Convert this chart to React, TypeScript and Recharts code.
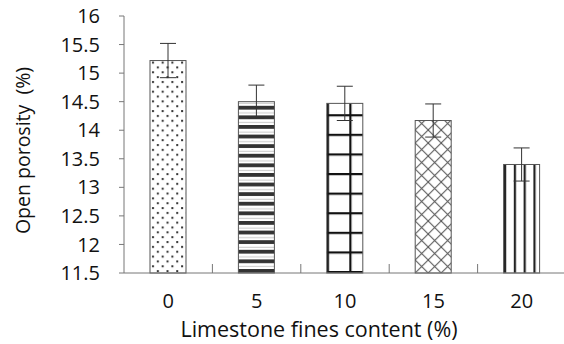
import React from "react";
import { BarChart, Bar, XAxis, YAxis, ErrorBar, Label } from "recharts";

const categories = ["0", "5", "10", "15", "20"];
const porosity = [15.22, 14.5, 14.47, 14.17, 13.4];
const errors = [0.3, 0.29, 0.3, 0.29, 0.29];
const yTicks = [11.5, 12, 12.5, 13, 13.5, 14, 14.5, 15, 15.5, 16];

const data = categories.map((c, i) => ({
  content: c,
  porosity: porosity[i],
  err: errors[i],
}));

const FONT = "'Open Sans', 'Noto Sans', sans-serif";
const X_TICK_SIZE = 8;
const X_TICK_MARGIN = 13;

// each bar gets its own hatch, anchored at the bar's left edge / bottom
const BarShape = (props: any) => {
  const { x, y, width, height, index } = props;
  const id = `hatch-${index}`;
  const bottom = y + height;
  let pattern: React.ReactNode = null;

  if (index === 0) {
    pattern = (
      <pattern id={id} x={x} y={bottom} width={9.7} height={9.7} patternUnits="userSpaceOnUse">
        <rect width={9.7} height={9.7} fill="#fff" />
        <rect x={2} y={2} width={2} height={2} fill="#333" />
        <rect x={6.85} y={6.85} width={2} height={2} fill="#333" />
      </pattern>
    );
  } else if (index === 1) {
    pattern = (
      <pattern id={id} x={x} y={bottom - 4} width={10} height={9.6} patternUnits="userSpaceOnUse">
        <rect width={10} height={9.6} fill="#fff" />
        <rect y={0} width={10} height={3.8} fill="#333" />
        <rect y={6.6} width={10} height={0.8} fill="#bbb" />
      </pattern>
    );
  } else if (index === 2) {
    pattern = (
      <pattern id={id} x={x} y={bottom - 2} width={22.5} height={19.6} patternUnits="userSpaceOnUse">
        <rect width={22.5} height={19.6} fill="#fff" />
        <rect x={0} y={0} width={2.2} height={19.6} fill="#111" />
        <rect x={0} y={0} width={22.5} height={2.2} fill="#111" />
      </pattern>
    );
  } else if (index === 3) {
    pattern = (
      <pattern id={id} x={x} y={bottom} width={13} height={13} patternUnits="userSpaceOnUse">
        <rect width={13} height={13} fill="#fff" />
        <line x1={0} y1={0} x2={13} y2={13} stroke="#555" strokeWidth={1.1} />
        <line x1={13} y1={0} x2={0} y2={13} stroke="#555" strokeWidth={1.1} />
      </pattern>
    );
  } else {
    pattern = (
      <pattern id={id} x={x + 0.4} y={bottom} width={9.8} height={10} patternUnits="userSpaceOnUse">
        <rect width={9.8} height={10} fill="#fff" />
        <rect x={0} y={0} width={2.2} height={10} fill="#222" />
      </pattern>
    );
  }

  return (
    <g>
      <defs>{pattern}</defs>
      <rect x={x} y={y} width={width} height={height} fill={`url(#${id})`} stroke="#555" strokeWidth={1} />
    </g>
  );
};

// category label plus the small inward tick at the right edge of the band
const XTick = (props: any) => {
  const { x, y, payload } = props;
  const axisY = y - X_TICK_SIZE - X_TICK_MARGIN;
  const edge = x + (payload.offset ?? 0);
  return (
    <g>
      <line x1={edge} x2={edge} y1={axisY} y2={axisY - 9} stroke="#777" strokeWidth={1} />
      <text x={x} y={y} dy="0.71em" textAnchor="middle" fill="#111" fontSize={20} fontFamily={FONT}>
        {payload.value}
      </text>
    </g>
  );
};

export default function App() {
  return (
    <div style={{ position: "absolute", left: 0, top: 0, width: 564, height: 344, overflow: "hidden", background: "#fff" }}>
      <BarChart
        width={568}
        height={344}
        data={data}
        margin={{ top: 16, right: 2, left: 44, bottom: 31 }}
        barCategoryGap={0}
      >
        <XAxis
          dataKey="content"
          height={40}
          axisLine={{ stroke: "#777" }}
          tickLine={false}
          tickSize={X_TICK_SIZE}
          tickMargin={X_TICK_MARGIN}
          tick={<XTick />}
          interval={0}
        >
          <Label
            content={() => (
              <text x={319} y={337} textAnchor="middle" fill="#111" fontSize={21.5} fontFamily={FONT}>
                Limestone fines content (%)
              </text>
            )}
          />
        </XAxis>
        <YAxis
          type="number"
          domain={[11.5, 16]}
          ticks={yTicks}
          interval={0}
          width={80}
          axisLine={{ stroke: "#777" }}
          tickLine={{ stroke: "#777" }}
          tickSize={5}
          tickMargin={19}
          tick={{ fill: "#111", fontSize: 20, fontFamily: FONT }}
        >
          <Label
            content={(p: any) => {
              const vb = p.viewBox || { y: 16, height: 257 };
              const cy = vb.y + vb.height / 2 + 6;
              return (
                <text
                  x={22}
                  y={cy}
                  transform={`rotate(-90, 22, ${cy})`}
                  textAnchor="middle"
                  dominantBaseline="central"
                  fill="#111"
                  fontSize={19.5}
                  fontFamily={FONT}
                  style={{ whiteSpace: "pre" }}
                >
                  {"Open porosity  (%)"}
                </text>
              );
            }}
          />
        </YAxis>
        <Bar dataKey="porosity" barSize={36} shape={<BarShape />} isAnimationActive={false}>
          <ErrorBar dataKey="err" width={8} stroke="#333" strokeWidth={1} isAnimationActive={false} />
        </Bar>
      </BarChart>
    </div>
  );
}
